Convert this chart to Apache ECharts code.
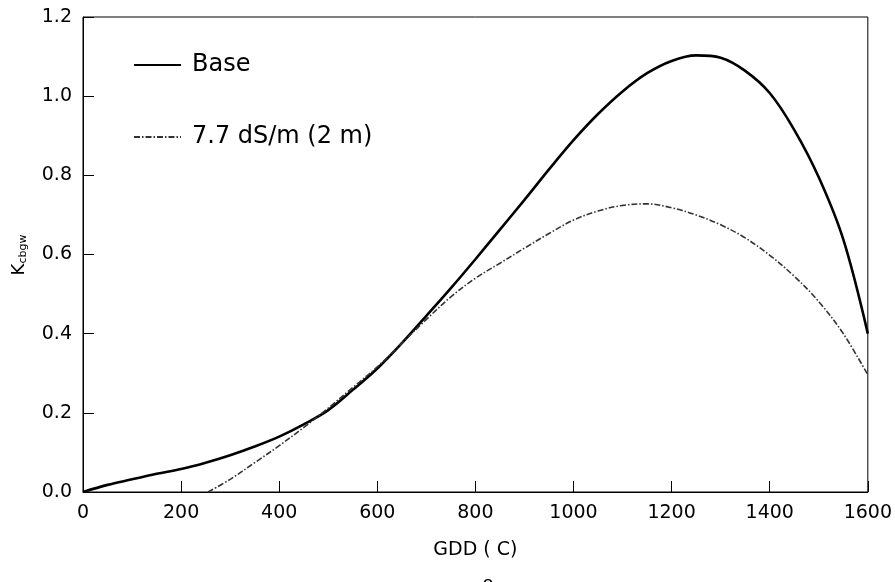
<!DOCTYPE html>
<html>
<head>
<meta charset="utf-8">
<script src="https://cdn.jsdelivr.net/npm/echarts@6/dist/echarts.min.js"></script>
<style>html,body{margin:0;padding:0;background:#fff;}#c{width:895px;height:582px;}</style>
</head>
<body>
<div id="c"></div>
<script>
const seriesNames = ['Base', '7.7 dS/m (2 m)'];
const baseGDD = [0,50,100,150,200,250,300,350,400,450,500,550,600,650,700,750,800,850,900,950,1000,1050,1100,1150,1200,1250,1300,1350,1400,1450,1500,1550,1600];
const baseK   = [0,0.018,0.032,0.046,0.058,0.074,0.093,0.115,0.140,0.171,0.207,0.258,0.312,0.376,0.445,0.515,0.588,0.663,0.738,0.815,0.889,0.955,1.012,1.058,1.089,1.103,1.097,1.064,1.008,0.915,0.795,0.638,0.400];
const salGDD  = [255,300,350,400,450,500,550,600,650,700,750,800,850,900,950,1000,1050,1100,1150,1200,1250,1300,1350,1400,1450,1500,1550,1600];
const salK    = [0,0.032,0.074,0.117,0.163,0.212,0.264,0.316,0.376,0.436,0.493,0.540,0.578,0.616,0.653,0.687,0.710,0.724,0.728,0.718,0.700,0.675,0.642,0.598,0.545,0.481,0.400,0.296];
const xTicks = [0,200,400,600,800,1000,1200,1400,1600];
const yTicks = [0.0,0.2,0.4,0.6,0.8,1.0,1.2];

const FONT = 'DejaVu Sans, Liberation Sans, sans-serif';
const chart = echarts.init(document.getElementById('c'), null, {renderer:'canvas'});
chart.setOption({
  backgroundColor:'#fff',
  animation:false,
  grid:{left:83,right:26,top:17,bottom:90,show:true,borderColor:'#000',borderWidth:1},
  legend:{
    orient:'vertical', left:128, top:45, itemWidth:47, itemHeight:14, itemGap:42, icon:'inherit',
    itemStyle:{opacity:0},
    textStyle:{fontFamily:FONT,fontSize:24,color:'#000',lineHeight:30,padding:[0,0,0,6]},
    data:seriesNames
  },
  xAxis:{
    type:'value', min:xTicks[0], max:xTicks[xTicks.length-1], interval:200,
    axisLine:{lineStyle:{color:'#000',width:1}},
    axisTick:{inside:true,length:11,lineStyle:{color:'#000'}},
    splitLine:{show:false},
    axisLabel:{fontFamily:FONT,fontSize:19,color:'#000',margin:12,formatter:v=>String(v)},
    name:'GDD ( C)', nameLocation:'middle', nameGap:49,
    nameTextStyle:{fontFamily:FONT,fontSize:19,color:'#000'}
  },
  yAxis:{
    type:'value', min:yTicks[0], max:yTicks[yTicks.length-1], interval:0.2,
    axisLine:{lineStyle:{color:'#000',width:1}},
    axisTick:{inside:true,length:11,lineStyle:{color:'#000'}},
    splitLine:{show:false},
    axisLabel:{fontFamily:FONT,fontSize:19,color:'#000',margin:11,formatter:v=>v.toFixed(1)}
  },
  graphic:[
    {type:'text',x:19,y:255,rotation:Math.PI/2,
     style:{text:'{k|K}{s|cbgw}',align:'center',verticalAlign:'middle',
       rich:{k:{fontFamily:FONT,fontSize:18,fill:'#000'},s:{fontFamily:FONT,fontSize:11,fill:'#000',padding:[8,0,0,0]}}}},
    {type:'text',x:488,y:575,style:{text:'o',fontFamily:FONT,fontSize:18,fill:'#000',align:'center',verticalAlign:'top'}}
  ],
  series:[
    {name:seriesNames[0],type:'line',smooth:0.35,showSymbol:false,symbol:'none',
     data:baseGDD.map((g,i)=>[g,baseK[i]]),
     lineStyle:{color:'#000',width:2.6},itemStyle:{color:'#000'}},
    {name:seriesNames[1],type:'line',smooth:0.35,showSymbol:false,symbol:'none',
     data:salGDD.map((g,i)=>[g,salK[i]]),
     lineStyle:{color:'#333',width:1.6,type:[6,2,1.5,2]},itemStyle:{color:'#333'}}
  ]
});
</script>
</body>
</html>
